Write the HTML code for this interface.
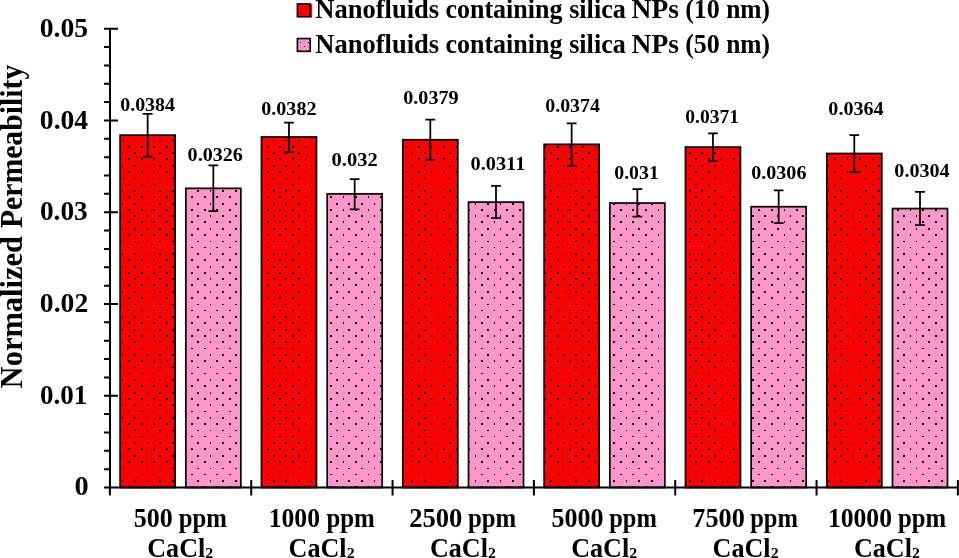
<!DOCTYPE html><html><head><meta charset="utf-8"><style>html,body{margin:0;padding:0;background:#fff;}svg{display:block;will-change:transform;}text{font-family:"Liberation Serif",serif;font-weight:bold;fill:#000;}</style></head><body>
<svg width="959" height="558" viewBox="0 0 959 558">
<rect x="120.15" y="135.14" width="55.0" height="352.36" fill="#FF0000"/>
<path d="M122 140h1v1h-1zM134 140h2v1h-2zM147 140h1v1h-1zM159 140h2v1h-2zM172 140h2v1h-2zM122 152h1v2h-1zM134 152h2v2h-2zM147 152h1v2h-1zM159 152h2v2h-2zM172 152h2v2h-2zM122 165h1v2h-1zM134 165h2v2h-2zM147 165h1v2h-1zM159 165h2v2h-2zM172 165h2v2h-2zM122 178h1v1h-1zM134 178h2v1h-2zM147 178h1v1h-1zM159 178h2v1h-2zM172 178h2v1h-2zM122 190h1v2h-1zM134 190h2v2h-2zM147 190h1v2h-1zM159 190h2v2h-2zM172 190h2v2h-2zM122 203h1v2h-1zM134 203h2v2h-2zM147 203h1v2h-1zM159 203h2v2h-2zM172 203h2v2h-2zM122 215h1v2h-1zM134 215h2v2h-2zM147 215h1v2h-1zM159 215h2v2h-2zM172 215h2v2h-2zM122 228h1v2h-1zM134 228h2v2h-2zM147 228h1v2h-1zM159 228h2v2h-2zM172 228h2v2h-2zM122 241h1v1h-1zM134 241h2v1h-2zM147 241h1v1h-1zM159 241h2v1h-2zM172 241h2v1h-2zM122 253h1v2h-1zM134 253h2v2h-2zM147 253h1v2h-1zM159 253h2v2h-2zM172 253h2v2h-2zM122 266h1v2h-1zM134 266h2v2h-2zM147 266h1v2h-1zM159 266h2v2h-2zM172 266h2v2h-2zM122 278h1v2h-1zM134 278h2v2h-2zM147 278h1v2h-1zM159 278h2v2h-2zM172 278h2v2h-2zM122 291h1v2h-1zM134 291h2v2h-2zM147 291h1v2h-1zM159 291h2v2h-2zM172 291h2v2h-2zM122 304h1v1h-1zM134 304h2v1h-2zM147 304h1v1h-1zM159 304h2v1h-2zM172 304h2v1h-2zM122 316h1v2h-1zM134 316h2v2h-2zM147 316h1v2h-1zM159 316h2v2h-2zM172 316h2v2h-2zM122 329h1v2h-1zM134 329h2v2h-2zM147 329h1v2h-1zM159 329h2v2h-2zM172 329h2v2h-2zM122 341h1v2h-1zM134 341h2v2h-2zM147 341h1v2h-1zM159 341h2v2h-2zM172 341h2v2h-2zM122 354h1v2h-1zM134 354h2v2h-2zM147 354h1v2h-1zM159 354h2v2h-2zM172 354h2v2h-2zM122 367h1v1h-1zM134 367h2v1h-2zM147 367h1v1h-1zM159 367h2v1h-2zM172 367h2v1h-2zM122 379h1v2h-1zM134 379h2v2h-2zM147 379h1v2h-1zM159 379h2v2h-2zM172 379h2v2h-2zM122 392h1v2h-1zM134 392h2v2h-2zM147 392h1v2h-1zM159 392h2v2h-2zM172 392h2v2h-2zM122 404h1v2h-1zM134 404h2v2h-2zM147 404h1v2h-1zM159 404h2v2h-2zM172 404h2v2h-2zM122 417h1v2h-1zM134 417h2v2h-2zM147 417h1v2h-1zM159 417h2v2h-2zM172 417h2v2h-2zM122 430h1v1h-1zM134 430h2v1h-2zM147 430h1v1h-1zM159 430h2v1h-2zM172 430h2v1h-2zM122 442h1v2h-1zM134 442h2v2h-2zM147 442h1v2h-1zM159 442h2v2h-2zM172 442h2v2h-2zM122 455h1v2h-1zM134 455h2v2h-2zM147 455h1v2h-1zM159 455h2v2h-2zM172 455h2v2h-2zM122 468h1v1h-1zM134 468h2v1h-2zM147 468h1v1h-1zM159 468h2v1h-2zM172 468h2v1h-2zM122 480h1v2h-1zM134 480h2v2h-2zM147 480h1v2h-1zM159 480h2v2h-2zM172 480h2v2h-2zM128 146h2v2h-2zM141 146h2v2h-2zM153 146h2v2h-2zM166 146h2v2h-2zM128 158h2v2h-2zM141 158h2v2h-2zM153 158h2v2h-2zM166 158h2v2h-2zM128 171h2v2h-2zM141 171h2v2h-2zM153 171h2v2h-2zM166 171h2v2h-2zM128 184h2v1h-2zM141 184h2v1h-2zM153 184h2v1h-2zM166 184h2v1h-2zM128 196h2v2h-2zM141 196h2v2h-2zM153 196h2v2h-2zM166 196h2v2h-2zM128 209h2v2h-2zM141 209h2v2h-2zM153 209h2v2h-2zM166 209h2v2h-2zM128 221h2v2h-2zM141 221h2v2h-2zM153 221h2v2h-2zM166 221h2v2h-2zM128 234h2v2h-2zM141 234h2v2h-2zM153 234h2v2h-2zM166 234h2v2h-2zM128 247h2v1h-2zM141 247h2v1h-2zM153 247h2v1h-2zM166 247h2v1h-2zM128 259h2v2h-2zM141 259h2v2h-2zM153 259h2v2h-2zM166 259h2v2h-2zM128 272h2v2h-2zM141 272h2v2h-2zM153 272h2v2h-2zM166 272h2v2h-2zM128 284h2v2h-2zM141 284h2v2h-2zM153 284h2v2h-2zM166 284h2v2h-2zM128 297h2v2h-2zM141 297h2v2h-2zM153 297h2v2h-2zM166 297h2v2h-2zM128 310h2v1h-2zM141 310h2v1h-2zM153 310h2v1h-2zM166 310h2v1h-2zM128 322h2v2h-2zM141 322h2v2h-2zM153 322h2v2h-2zM166 322h2v2h-2zM128 335h2v2h-2zM141 335h2v2h-2zM153 335h2v2h-2zM166 335h2v2h-2zM128 348h2v1h-2zM141 348h2v1h-2zM153 348h2v1h-2zM166 348h2v1h-2zM128 360h2v2h-2zM141 360h2v2h-2zM153 360h2v2h-2zM166 360h2v2h-2zM128 373h2v1h-2zM141 373h2v1h-2zM153 373h2v1h-2zM166 373h2v1h-2zM128 385h2v2h-2zM141 385h2v2h-2zM153 385h2v2h-2zM166 385h2v2h-2zM128 398h2v2h-2zM141 398h2v2h-2zM153 398h2v2h-2zM166 398h2v2h-2zM128 411h2v1h-2zM141 411h2v1h-2zM153 411h2v1h-2zM166 411h2v1h-2zM128 423h2v2h-2zM141 423h2v2h-2zM153 423h2v2h-2zM166 423h2v2h-2zM128 436h2v1h-2zM141 436h2v1h-2zM153 436h2v1h-2zM166 436h2v1h-2zM128 448h2v2h-2zM141 448h2v2h-2zM153 448h2v2h-2zM166 448h2v2h-2zM128 461h2v2h-2zM141 461h2v2h-2zM153 461h2v2h-2zM166 461h2v2h-2zM128 474h2v1h-2zM141 474h2v1h-2zM153 474h2v1h-2zM166 474h2v1h-2zM128 486h2v2h-2zM141 486h2v2h-2zM153 486h2v2h-2zM166 486h2v2h-2z" fill="#000" shape-rendering="crispEdges"/>
<rect x="120.15" y="135.14" width="55.0" height="352.36" fill="none" stroke="#000" stroke-width="1.7"/>
<rect x="185.85" y="188.36" width="55.0" height="299.14" fill="#FF96CA"/>
<path d="M185 190h1v2h-1zM197 190h2v2h-2zM210 190h1v2h-1zM222 190h2v2h-2zM235 190h2v2h-2zM185 203h1v2h-1zM197 203h2v2h-2zM210 203h1v2h-1zM222 203h2v2h-2zM235 203h2v2h-2zM185 215h1v2h-1zM197 215h2v2h-2zM210 215h1v2h-1zM222 215h2v2h-2zM235 215h2v2h-2zM185 228h1v2h-1zM197 228h2v2h-2zM210 228h1v2h-1zM222 228h2v2h-2zM235 228h2v2h-2zM185 241h1v1h-1zM197 241h2v1h-2zM210 241h1v1h-1zM222 241h2v1h-2zM235 241h2v1h-2zM185 253h1v2h-1zM197 253h2v2h-2zM210 253h1v2h-1zM222 253h2v2h-2zM235 253h2v2h-2zM185 266h1v2h-1zM197 266h2v2h-2zM210 266h1v2h-1zM222 266h2v2h-2zM235 266h2v2h-2zM185 278h1v2h-1zM197 278h2v2h-2zM210 278h1v2h-1zM222 278h2v2h-2zM235 278h2v2h-2zM185 291h1v2h-1zM197 291h2v2h-2zM210 291h1v2h-1zM222 291h2v2h-2zM235 291h2v2h-2zM185 304h1v1h-1zM197 304h2v1h-2zM210 304h1v1h-1zM222 304h2v1h-2zM235 304h2v1h-2zM185 316h1v2h-1zM197 316h2v2h-2zM210 316h1v2h-1zM222 316h2v2h-2zM235 316h2v2h-2zM185 329h1v2h-1zM197 329h2v2h-2zM210 329h1v2h-1zM222 329h2v2h-2zM235 329h2v2h-2zM185 341h1v2h-1zM197 341h2v2h-2zM210 341h1v2h-1zM222 341h2v2h-2zM235 341h2v2h-2zM185 354h1v2h-1zM197 354h2v2h-2zM210 354h1v2h-1zM222 354h2v2h-2zM235 354h2v2h-2zM185 367h1v1h-1zM197 367h2v1h-2zM210 367h1v1h-1zM222 367h2v1h-2zM235 367h2v1h-2zM185 379h1v2h-1zM197 379h2v2h-2zM210 379h1v2h-1zM222 379h2v2h-2zM235 379h2v2h-2zM185 392h1v2h-1zM197 392h2v2h-2zM210 392h1v2h-1zM222 392h2v2h-2zM235 392h2v2h-2zM185 404h1v2h-1zM197 404h2v2h-2zM210 404h1v2h-1zM222 404h2v2h-2zM235 404h2v2h-2zM185 417h1v2h-1zM197 417h2v2h-2zM210 417h1v2h-1zM222 417h2v2h-2zM235 417h2v2h-2zM185 430h1v1h-1zM197 430h2v1h-2zM210 430h1v1h-1zM222 430h2v1h-2zM235 430h2v1h-2zM185 442h1v2h-1zM197 442h2v2h-2zM210 442h1v2h-1zM222 442h2v2h-2zM235 442h2v2h-2zM185 455h1v2h-1zM197 455h2v2h-2zM210 455h1v2h-1zM222 455h2v2h-2zM235 455h2v2h-2zM185 468h1v1h-1zM197 468h2v1h-2zM210 468h1v1h-1zM222 468h2v1h-2zM235 468h2v1h-2zM185 480h1v2h-1zM197 480h2v2h-2zM210 480h1v2h-1zM222 480h2v2h-2zM235 480h2v2h-2zM191 196h2v2h-2zM204 196h2v2h-2zM216 196h2v2h-2zM229 196h2v2h-2zM191 209h2v2h-2zM204 209h2v2h-2zM216 209h2v2h-2zM229 209h2v2h-2zM191 221h2v2h-2zM204 221h2v2h-2zM216 221h2v2h-2zM229 221h2v2h-2zM191 234h2v2h-2zM204 234h2v2h-2zM216 234h2v2h-2zM229 234h2v2h-2zM191 247h2v1h-2zM204 247h2v1h-2zM216 247h2v1h-2zM229 247h2v1h-2zM191 259h2v2h-2zM204 259h2v2h-2zM216 259h2v2h-2zM229 259h2v2h-2zM191 272h2v2h-2zM204 272h2v2h-2zM216 272h2v2h-2zM229 272h2v2h-2zM191 284h2v2h-2zM204 284h2v2h-2zM216 284h2v2h-2zM229 284h2v2h-2zM191 297h2v2h-2zM204 297h2v2h-2zM216 297h2v2h-2zM229 297h2v2h-2zM191 310h2v1h-2zM204 310h2v1h-2zM216 310h2v1h-2zM229 310h2v1h-2zM191 322h2v2h-2zM204 322h2v2h-2zM216 322h2v2h-2zM229 322h2v2h-2zM191 335h2v2h-2zM204 335h2v2h-2zM216 335h2v2h-2zM229 335h2v2h-2zM191 348h2v1h-2zM204 348h2v1h-2zM216 348h2v1h-2zM229 348h2v1h-2zM191 360h2v2h-2zM204 360h2v2h-2zM216 360h2v2h-2zM229 360h2v2h-2zM191 373h2v1h-2zM204 373h2v1h-2zM216 373h2v1h-2zM229 373h2v1h-2zM191 385h2v2h-2zM204 385h2v2h-2zM216 385h2v2h-2zM229 385h2v2h-2zM191 398h2v2h-2zM204 398h2v2h-2zM216 398h2v2h-2zM229 398h2v2h-2zM191 411h2v1h-2zM204 411h2v1h-2zM216 411h2v1h-2zM229 411h2v1h-2zM191 423h2v2h-2zM204 423h2v2h-2zM216 423h2v2h-2zM229 423h2v2h-2zM191 436h2v1h-2zM204 436h2v1h-2zM216 436h2v1h-2zM229 436h2v1h-2zM191 448h2v2h-2zM204 448h2v2h-2zM216 448h2v2h-2zM229 448h2v2h-2zM191 461h2v2h-2zM204 461h2v2h-2zM216 461h2v2h-2zM229 461h2v2h-2zM191 474h2v1h-2zM204 474h2v1h-2zM216 474h2v1h-2zM229 474h2v1h-2zM191 486h2v2h-2zM204 486h2v2h-2zM216 486h2v2h-2zM229 486h2v2h-2z" fill="#000" shape-rendering="crispEdges"/>
<rect x="185.85" y="188.36" width="55.0" height="299.14" fill="none" stroke="#000" stroke-width="1.7"/>
<rect x="261.48" y="136.98" width="55.0" height="350.52" fill="#FF0000"/>
<path d="M261 140h1v1h-1zM273 140h2v1h-2zM285 140h2v1h-2zM298 140h2v1h-2zM311 140h1v1h-1zM261 152h1v2h-1zM273 152h2v2h-2zM285 152h2v2h-2zM298 152h2v2h-2zM311 152h1v2h-1zM261 165h1v2h-1zM273 165h2v2h-2zM285 165h2v2h-2zM298 165h2v2h-2zM311 165h1v2h-1zM261 178h1v1h-1zM273 178h2v1h-2zM285 178h2v1h-2zM298 178h2v1h-2zM311 178h1v1h-1zM261 190h1v2h-1zM273 190h2v2h-2zM285 190h2v2h-2zM298 190h2v2h-2zM311 190h1v2h-1zM261 203h1v2h-1zM273 203h2v2h-2zM285 203h2v2h-2zM298 203h2v2h-2zM311 203h1v2h-1zM261 215h1v2h-1zM273 215h2v2h-2zM285 215h2v2h-2zM298 215h2v2h-2zM311 215h1v2h-1zM261 228h1v2h-1zM273 228h2v2h-2zM285 228h2v2h-2zM298 228h2v2h-2zM311 228h1v2h-1zM261 241h1v1h-1zM273 241h2v1h-2zM285 241h2v1h-2zM298 241h2v1h-2zM311 241h1v1h-1zM261 253h1v2h-1zM273 253h2v2h-2zM285 253h2v2h-2zM298 253h2v2h-2zM311 253h1v2h-1zM261 266h1v2h-1zM273 266h2v2h-2zM285 266h2v2h-2zM298 266h2v2h-2zM311 266h1v2h-1zM261 278h1v2h-1zM273 278h2v2h-2zM285 278h2v2h-2zM298 278h2v2h-2zM311 278h1v2h-1zM261 291h1v2h-1zM273 291h2v2h-2zM285 291h2v2h-2zM298 291h2v2h-2zM311 291h1v2h-1zM261 304h1v1h-1zM273 304h2v1h-2zM285 304h2v1h-2zM298 304h2v1h-2zM311 304h1v1h-1zM261 316h1v2h-1zM273 316h2v2h-2zM285 316h2v2h-2zM298 316h2v2h-2zM311 316h1v2h-1zM261 329h1v2h-1zM273 329h2v2h-2zM285 329h2v2h-2zM298 329h2v2h-2zM311 329h1v2h-1zM261 341h1v2h-1zM273 341h2v2h-2zM285 341h2v2h-2zM298 341h2v2h-2zM311 341h1v2h-1zM261 354h1v2h-1zM273 354h2v2h-2zM285 354h2v2h-2zM298 354h2v2h-2zM311 354h1v2h-1zM261 367h1v1h-1zM273 367h2v1h-2zM285 367h2v1h-2zM298 367h2v1h-2zM311 367h1v1h-1zM261 379h1v2h-1zM273 379h2v2h-2zM285 379h2v2h-2zM298 379h2v2h-2zM311 379h1v2h-1zM261 392h1v2h-1zM273 392h2v2h-2zM285 392h2v2h-2zM298 392h2v2h-2zM311 392h1v2h-1zM261 404h1v2h-1zM273 404h2v2h-2zM285 404h2v2h-2zM298 404h2v2h-2zM311 404h1v2h-1zM261 417h1v2h-1zM273 417h2v2h-2zM285 417h2v2h-2zM298 417h2v2h-2zM311 417h1v2h-1zM261 430h1v1h-1zM273 430h2v1h-2zM285 430h2v1h-2zM298 430h2v1h-2zM311 430h1v1h-1zM261 442h1v2h-1zM273 442h2v2h-2zM285 442h2v2h-2zM298 442h2v2h-2zM311 442h1v2h-1zM261 455h1v2h-1zM273 455h2v2h-2zM285 455h2v2h-2zM298 455h2v2h-2zM311 455h1v2h-1zM261 468h1v1h-1zM273 468h2v1h-2zM285 468h2v1h-2zM298 468h2v1h-2zM311 468h1v1h-1zM261 480h1v2h-1zM273 480h2v2h-2zM285 480h2v2h-2zM298 480h2v2h-2zM311 480h1v2h-1zM267 146h2v2h-2zM279 146h2v2h-2zM292 146h2v2h-2zM305 146h1v2h-1zM267 158h2v2h-2zM279 158h2v2h-2zM292 158h2v2h-2zM305 158h1v2h-1zM267 171h2v2h-2zM279 171h2v2h-2zM292 171h2v2h-2zM305 171h1v2h-1zM267 184h2v1h-2zM279 184h2v1h-2zM292 184h2v1h-2zM305 184h1v1h-1zM267 196h2v2h-2zM279 196h2v2h-2zM292 196h2v2h-2zM305 196h1v2h-1zM267 209h2v2h-2zM279 209h2v2h-2zM292 209h2v2h-2zM305 209h1v2h-1zM267 221h2v2h-2zM279 221h2v2h-2zM292 221h2v2h-2zM305 221h1v2h-1zM267 234h2v2h-2zM279 234h2v2h-2zM292 234h2v2h-2zM305 234h1v2h-1zM267 247h2v1h-2zM279 247h2v1h-2zM292 247h2v1h-2zM305 247h1v1h-1zM267 259h2v2h-2zM279 259h2v2h-2zM292 259h2v2h-2zM305 259h1v2h-1zM267 272h2v2h-2zM279 272h2v2h-2zM292 272h2v2h-2zM305 272h1v2h-1zM267 284h2v2h-2zM279 284h2v2h-2zM292 284h2v2h-2zM305 284h1v2h-1zM267 297h2v2h-2zM279 297h2v2h-2zM292 297h2v2h-2zM305 297h1v2h-1zM267 310h2v1h-2zM279 310h2v1h-2zM292 310h2v1h-2zM305 310h1v1h-1zM267 322h2v2h-2zM279 322h2v2h-2zM292 322h2v2h-2zM305 322h1v2h-1zM267 335h2v2h-2zM279 335h2v2h-2zM292 335h2v2h-2zM305 335h1v2h-1zM267 348h2v1h-2zM279 348h2v1h-2zM292 348h2v1h-2zM305 348h1v1h-1zM267 360h2v2h-2zM279 360h2v2h-2zM292 360h2v2h-2zM305 360h1v2h-1zM267 373h2v1h-2zM279 373h2v1h-2zM292 373h2v1h-2zM305 373h1v1h-1zM267 385h2v2h-2zM279 385h2v2h-2zM292 385h2v2h-2zM305 385h1v2h-1zM267 398h2v2h-2zM279 398h2v2h-2zM292 398h2v2h-2zM305 398h1v2h-1zM267 411h2v1h-2zM279 411h2v1h-2zM292 411h2v1h-2zM305 411h1v1h-1zM267 423h2v2h-2zM279 423h2v2h-2zM292 423h2v2h-2zM305 423h1v2h-1zM267 436h2v1h-2zM279 436h2v1h-2zM292 436h2v1h-2zM305 436h1v1h-1zM267 448h2v2h-2zM279 448h2v2h-2zM292 448h2v2h-2zM305 448h1v2h-1zM267 461h2v2h-2zM279 461h2v2h-2zM292 461h2v2h-2zM305 461h1v2h-1zM267 474h2v1h-2zM279 474h2v1h-2zM292 474h2v1h-2zM305 474h1v1h-1zM267 486h2v2h-2zM279 486h2v2h-2zM292 486h2v2h-2zM305 486h1v2h-1z" fill="#000" shape-rendering="crispEdges"/>
<rect x="261.48" y="136.98" width="55.0" height="350.52" fill="none" stroke="#000" stroke-width="1.7"/>
<rect x="327.18" y="193.87" width="55.0" height="293.63" fill="#FF96CA"/>
<path d="M336 203h2v2h-2zM348 203h2v2h-2zM361 203h2v2h-2zM374 203h1v2h-1zM336 215h2v2h-2zM348 215h2v2h-2zM361 215h2v2h-2zM374 215h1v2h-1zM336 228h2v2h-2zM348 228h2v2h-2zM361 228h2v2h-2zM374 228h1v2h-1zM336 241h2v1h-2zM348 241h2v1h-2zM361 241h2v1h-2zM374 241h1v1h-1zM336 253h2v2h-2zM348 253h2v2h-2zM361 253h2v2h-2zM374 253h1v2h-1zM336 266h2v2h-2zM348 266h2v2h-2zM361 266h2v2h-2zM374 266h1v2h-1zM336 278h2v2h-2zM348 278h2v2h-2zM361 278h2v2h-2zM374 278h1v2h-1zM336 291h2v2h-2zM348 291h2v2h-2zM361 291h2v2h-2zM374 291h1v2h-1zM336 304h2v1h-2zM348 304h2v1h-2zM361 304h2v1h-2zM374 304h1v1h-1zM336 316h2v2h-2zM348 316h2v2h-2zM361 316h2v2h-2zM374 316h1v2h-1zM336 329h2v2h-2zM348 329h2v2h-2zM361 329h2v2h-2zM374 329h1v2h-1zM336 341h2v2h-2zM348 341h2v2h-2zM361 341h2v2h-2zM374 341h1v2h-1zM336 354h2v2h-2zM348 354h2v2h-2zM361 354h2v2h-2zM374 354h1v2h-1zM336 367h2v1h-2zM348 367h2v1h-2zM361 367h2v1h-2zM374 367h1v1h-1zM336 379h2v2h-2zM348 379h2v2h-2zM361 379h2v2h-2zM374 379h1v2h-1zM336 392h2v2h-2zM348 392h2v2h-2zM361 392h2v2h-2zM374 392h1v2h-1zM336 404h2v2h-2zM348 404h2v2h-2zM361 404h2v2h-2zM374 404h1v2h-1zM336 417h2v2h-2zM348 417h2v2h-2zM361 417h2v2h-2zM374 417h1v2h-1zM336 430h2v1h-2zM348 430h2v1h-2zM361 430h2v1h-2zM374 430h1v1h-1zM336 442h2v2h-2zM348 442h2v2h-2zM361 442h2v2h-2zM374 442h1v2h-1zM336 455h2v2h-2zM348 455h2v2h-2zM361 455h2v2h-2zM374 455h1v2h-1zM336 468h2v1h-2zM348 468h2v1h-2zM361 468h2v1h-2zM374 468h1v1h-1zM336 480h2v2h-2zM348 480h2v2h-2zM361 480h2v2h-2zM374 480h1v2h-1zM330 196h2v2h-2zM343 196h1v2h-1zM355 196h2v2h-2zM368 196h1v2h-1zM380 196h2v2h-2zM330 209h2v2h-2zM343 209h1v2h-1zM355 209h2v2h-2zM368 209h1v2h-1zM380 209h2v2h-2zM330 221h2v2h-2zM343 221h1v2h-1zM355 221h2v2h-2zM368 221h1v2h-1zM380 221h2v2h-2zM330 234h2v2h-2zM343 234h1v2h-1zM355 234h2v2h-2zM368 234h1v2h-1zM380 234h2v2h-2zM330 247h2v1h-2zM343 247h1v1h-1zM355 247h2v1h-2zM368 247h1v1h-1zM380 247h2v1h-2zM330 259h2v2h-2zM343 259h1v2h-1zM355 259h2v2h-2zM368 259h1v2h-1zM380 259h2v2h-2zM330 272h2v2h-2zM343 272h1v2h-1zM355 272h2v2h-2zM368 272h1v2h-1zM380 272h2v2h-2zM330 284h2v2h-2zM343 284h1v2h-1zM355 284h2v2h-2zM368 284h1v2h-1zM380 284h2v2h-2zM330 297h2v2h-2zM343 297h1v2h-1zM355 297h2v2h-2zM368 297h1v2h-1zM380 297h2v2h-2zM330 310h2v1h-2zM343 310h1v1h-1zM355 310h2v1h-2zM368 310h1v1h-1zM380 310h2v1h-2zM330 322h2v2h-2zM343 322h1v2h-1zM355 322h2v2h-2zM368 322h1v2h-1zM380 322h2v2h-2zM330 335h2v2h-2zM343 335h1v2h-1zM355 335h2v2h-2zM368 335h1v2h-1zM380 335h2v2h-2zM330 348h2v1h-2zM343 348h1v1h-1zM355 348h2v1h-2zM368 348h1v1h-1zM380 348h2v1h-2zM330 360h2v2h-2zM343 360h1v2h-1zM355 360h2v2h-2zM368 360h1v2h-1zM380 360h2v2h-2zM330 373h2v1h-2zM343 373h1v1h-1zM355 373h2v1h-2zM368 373h1v1h-1zM380 373h2v1h-2zM330 385h2v2h-2zM343 385h1v2h-1zM355 385h2v2h-2zM368 385h1v2h-1zM380 385h2v2h-2zM330 398h2v2h-2zM343 398h1v2h-1zM355 398h2v2h-2zM368 398h1v2h-1zM380 398h2v2h-2zM330 411h2v1h-2zM343 411h1v1h-1zM355 411h2v1h-2zM368 411h1v1h-1zM380 411h2v1h-2zM330 423h2v2h-2zM343 423h1v2h-1zM355 423h2v2h-2zM368 423h1v2h-1zM380 423h2v2h-2zM330 436h2v1h-2zM343 436h1v1h-1zM355 436h2v1h-2zM368 436h1v1h-1zM380 436h2v1h-2zM330 448h2v2h-2zM343 448h1v2h-1zM355 448h2v2h-2zM368 448h1v2h-1zM380 448h2v2h-2zM330 461h2v2h-2zM343 461h1v2h-1zM355 461h2v2h-2zM368 461h1v2h-1zM380 461h2v2h-2zM330 474h2v1h-2zM343 474h1v1h-1zM355 474h2v1h-2zM368 474h1v1h-1zM380 474h2v1h-2zM330 486h2v2h-2zM343 486h1v2h-1zM355 486h2v2h-2zM368 486h1v2h-1zM380 486h2v2h-2z" fill="#000" shape-rendering="crispEdges"/>
<rect x="327.18" y="193.87" width="55.0" height="293.63" fill="none" stroke="#000" stroke-width="1.7"/>
<rect x="402.81" y="139.73" width="55.0" height="347.77" fill="#FF0000"/>
<path d="M411 140h2v1h-2zM424 140h2v1h-2zM437 140h1v1h-1zM449 140h2v1h-2zM411 152h2v2h-2zM424 152h2v2h-2zM437 152h1v2h-1zM449 152h2v2h-2zM411 165h2v2h-2zM424 165h2v2h-2zM437 165h1v2h-1zM449 165h2v2h-2zM411 178h2v1h-2zM424 178h2v1h-2zM437 178h1v1h-1zM449 178h2v1h-2zM411 190h2v2h-2zM424 190h2v2h-2zM437 190h1v2h-1zM449 190h2v2h-2zM411 203h2v2h-2zM424 203h2v2h-2zM437 203h1v2h-1zM449 203h2v2h-2zM411 215h2v2h-2zM424 215h2v2h-2zM437 215h1v2h-1zM449 215h2v2h-2zM411 228h2v2h-2zM424 228h2v2h-2zM437 228h1v2h-1zM449 228h2v2h-2zM411 241h2v1h-2zM424 241h2v1h-2zM437 241h1v1h-1zM449 241h2v1h-2zM411 253h2v2h-2zM424 253h2v2h-2zM437 253h1v2h-1zM449 253h2v2h-2zM411 266h2v2h-2zM424 266h2v2h-2zM437 266h1v2h-1zM449 266h2v2h-2zM411 278h2v2h-2zM424 278h2v2h-2zM437 278h1v2h-1zM449 278h2v2h-2zM411 291h2v2h-2zM424 291h2v2h-2zM437 291h1v2h-1zM449 291h2v2h-2zM411 304h2v1h-2zM424 304h2v1h-2zM437 304h1v1h-1zM449 304h2v1h-2zM411 316h2v2h-2zM424 316h2v2h-2zM437 316h1v2h-1zM449 316h2v2h-2zM411 329h2v2h-2zM424 329h2v2h-2zM437 329h1v2h-1zM449 329h2v2h-2zM411 341h2v2h-2zM424 341h2v2h-2zM437 341h1v2h-1zM449 341h2v2h-2zM411 354h2v2h-2zM424 354h2v2h-2zM437 354h1v2h-1zM449 354h2v2h-2zM411 367h2v1h-2zM424 367h2v1h-2zM437 367h1v1h-1zM449 367h2v1h-2zM411 379h2v2h-2zM424 379h2v2h-2zM437 379h1v2h-1zM449 379h2v2h-2zM411 392h2v2h-2zM424 392h2v2h-2zM437 392h1v2h-1zM449 392h2v2h-2zM411 404h2v2h-2zM424 404h2v2h-2zM437 404h1v2h-1zM449 404h2v2h-2zM411 417h2v2h-2zM424 417h2v2h-2zM437 417h1v2h-1zM449 417h2v2h-2zM411 430h2v1h-2zM424 430h2v1h-2zM437 430h1v1h-1zM449 430h2v1h-2zM411 442h2v2h-2zM424 442h2v2h-2zM437 442h1v2h-1zM449 442h2v2h-2zM411 455h2v2h-2zM424 455h2v2h-2zM437 455h1v2h-1zM449 455h2v2h-2zM411 468h2v1h-2zM424 468h2v1h-2zM437 468h1v1h-1zM449 468h2v1h-2zM411 480h2v2h-2zM424 480h2v2h-2zM437 480h1v2h-1zM449 480h2v2h-2zM406 146h1v2h-1zM418 146h2v2h-2zM431 146h1v2h-1zM443 146h2v2h-2zM456 146h2v2h-2zM406 158h1v2h-1zM418 158h2v2h-2zM431 158h1v2h-1zM443 158h2v2h-2zM456 158h2v2h-2zM406 171h1v2h-1zM418 171h2v2h-2zM431 171h1v2h-1zM443 171h2v2h-2zM456 171h2v2h-2zM406 184h1v1h-1zM418 184h2v1h-2zM431 184h1v1h-1zM443 184h2v1h-2zM456 184h2v1h-2zM406 196h1v2h-1zM418 196h2v2h-2zM431 196h1v2h-1zM443 196h2v2h-2zM456 196h2v2h-2zM406 209h1v2h-1zM418 209h2v2h-2zM431 209h1v2h-1zM443 209h2v2h-2zM456 209h2v2h-2zM406 221h1v2h-1zM418 221h2v2h-2zM431 221h1v2h-1zM443 221h2v2h-2zM456 221h2v2h-2zM406 234h1v2h-1zM418 234h2v2h-2zM431 234h1v2h-1zM443 234h2v2h-2zM456 234h2v2h-2zM406 247h1v1h-1zM418 247h2v1h-2zM431 247h1v1h-1zM443 247h2v1h-2zM456 247h2v1h-2zM406 259h1v2h-1zM418 259h2v2h-2zM431 259h1v2h-1zM443 259h2v2h-2zM456 259h2v2h-2zM406 272h1v2h-1zM418 272h2v2h-2zM431 272h1v2h-1zM443 272h2v2h-2zM456 272h2v2h-2zM406 284h1v2h-1zM418 284h2v2h-2zM431 284h1v2h-1zM443 284h2v2h-2zM456 284h2v2h-2zM406 297h1v2h-1zM418 297h2v2h-2zM431 297h1v2h-1zM443 297h2v2h-2zM456 297h2v2h-2zM406 310h1v1h-1zM418 310h2v1h-2zM431 310h1v1h-1zM443 310h2v1h-2zM456 310h2v1h-2zM406 322h1v2h-1zM418 322h2v2h-2zM431 322h1v2h-1zM443 322h2v2h-2zM456 322h2v2h-2zM406 335h1v2h-1zM418 335h2v2h-2zM431 335h1v2h-1zM443 335h2v2h-2zM456 335h2v2h-2zM406 348h1v1h-1zM418 348h2v1h-2zM431 348h1v1h-1zM443 348h2v1h-2zM456 348h2v1h-2zM406 360h1v2h-1zM418 360h2v2h-2zM431 360h1v2h-1zM443 360h2v2h-2zM456 360h2v2h-2zM406 373h1v1h-1zM418 373h2v1h-2zM431 373h1v1h-1zM443 373h2v1h-2zM456 373h2v1h-2zM406 385h1v2h-1zM418 385h2v2h-2zM431 385h1v2h-1zM443 385h2v2h-2zM456 385h2v2h-2zM406 398h1v2h-1zM418 398h2v2h-2zM431 398h1v2h-1zM443 398h2v2h-2zM456 398h2v2h-2zM406 411h1v1h-1zM418 411h2v1h-2zM431 411h1v1h-1zM443 411h2v1h-2zM456 411h2v1h-2zM406 423h1v2h-1zM418 423h2v2h-2zM431 423h1v2h-1zM443 423h2v2h-2zM456 423h2v2h-2zM406 436h1v1h-1zM418 436h2v1h-2zM431 436h1v1h-1zM443 436h2v1h-2zM456 436h2v1h-2zM406 448h1v2h-1zM418 448h2v2h-2zM431 448h1v2h-1zM443 448h2v2h-2zM456 448h2v2h-2zM406 461h1v2h-1zM418 461h2v2h-2zM431 461h1v2h-1zM443 461h2v2h-2zM456 461h2v2h-2zM406 474h1v1h-1zM418 474h2v1h-2zM431 474h1v1h-1zM443 474h2v1h-2zM456 474h2v1h-2zM406 486h1v2h-1zM418 486h2v2h-2zM431 486h1v2h-1zM443 486h2v2h-2zM456 486h2v2h-2z" fill="#000" shape-rendering="crispEdges"/>
<rect x="402.81" y="139.73" width="55.0" height="347.77" fill="none" stroke="#000" stroke-width="1.7"/>
<rect x="468.51" y="202.13" width="55.0" height="285.37" fill="#FF96CA"/>
<path d="M475 203h1v2h-1zM487 203h2v2h-2zM500 203h1v2h-1zM512 203h2v2h-2zM475 215h1v2h-1zM487 215h2v2h-2zM500 215h1v2h-1zM512 215h2v2h-2zM475 228h1v2h-1zM487 228h2v2h-2zM500 228h1v2h-1zM512 228h2v2h-2zM475 241h1v1h-1zM487 241h2v1h-2zM500 241h1v1h-1zM512 241h2v1h-2zM475 253h1v2h-1zM487 253h2v2h-2zM500 253h1v2h-1zM512 253h2v2h-2zM475 266h1v2h-1zM487 266h2v2h-2zM500 266h1v2h-1zM512 266h2v2h-2zM475 278h1v2h-1zM487 278h2v2h-2zM500 278h1v2h-1zM512 278h2v2h-2zM475 291h1v2h-1zM487 291h2v2h-2zM500 291h1v2h-1zM512 291h2v2h-2zM475 304h1v1h-1zM487 304h2v1h-2zM500 304h1v1h-1zM512 304h2v1h-2zM475 316h1v2h-1zM487 316h2v2h-2zM500 316h1v2h-1zM512 316h2v2h-2zM475 329h1v2h-1zM487 329h2v2h-2zM500 329h1v2h-1zM512 329h2v2h-2zM475 341h1v2h-1zM487 341h2v2h-2zM500 341h1v2h-1zM512 341h2v2h-2zM475 354h1v2h-1zM487 354h2v2h-2zM500 354h1v2h-1zM512 354h2v2h-2zM475 367h1v1h-1zM487 367h2v1h-2zM500 367h1v1h-1zM512 367h2v1h-2zM475 379h1v2h-1zM487 379h2v2h-2zM500 379h1v2h-1zM512 379h2v2h-2zM475 392h1v2h-1zM487 392h2v2h-2zM500 392h1v2h-1zM512 392h2v2h-2zM475 404h1v2h-1zM487 404h2v2h-2zM500 404h1v2h-1zM512 404h2v2h-2zM475 417h1v2h-1zM487 417h2v2h-2zM500 417h1v2h-1zM512 417h2v2h-2zM475 430h1v1h-1zM487 430h2v1h-2zM500 430h1v1h-1zM512 430h2v1h-2zM475 442h1v2h-1zM487 442h2v2h-2zM500 442h1v2h-1zM512 442h2v2h-2zM475 455h1v2h-1zM487 455h2v2h-2zM500 455h1v2h-1zM512 455h2v2h-2zM475 468h1v1h-1zM487 468h2v1h-2zM500 468h1v1h-1zM512 468h2v1h-2zM475 480h1v2h-1zM487 480h2v2h-2zM500 480h1v2h-1zM512 480h2v2h-2zM469 209h1v2h-1zM481 209h2v2h-2zM494 209h1v2h-1zM506 209h2v2h-2zM519 209h2v2h-2zM469 221h1v2h-1zM481 221h2v2h-2zM494 221h1v2h-1zM506 221h2v2h-2zM519 221h2v2h-2zM469 234h1v2h-1zM481 234h2v2h-2zM494 234h1v2h-1zM506 234h2v2h-2zM519 234h2v2h-2zM469 247h1v1h-1zM481 247h2v1h-2zM494 247h1v1h-1zM506 247h2v1h-2zM519 247h2v1h-2zM469 259h1v2h-1zM481 259h2v2h-2zM494 259h1v2h-1zM506 259h2v2h-2zM519 259h2v2h-2zM469 272h1v2h-1zM481 272h2v2h-2zM494 272h1v2h-1zM506 272h2v2h-2zM519 272h2v2h-2zM469 284h1v2h-1zM481 284h2v2h-2zM494 284h1v2h-1zM506 284h2v2h-2zM519 284h2v2h-2zM469 297h1v2h-1zM481 297h2v2h-2zM494 297h1v2h-1zM506 297h2v2h-2zM519 297h2v2h-2zM469 310h1v1h-1zM481 310h2v1h-2zM494 310h1v1h-1zM506 310h2v1h-2zM519 310h2v1h-2zM469 322h1v2h-1zM481 322h2v2h-2zM494 322h1v2h-1zM506 322h2v2h-2zM519 322h2v2h-2zM469 335h1v2h-1zM481 335h2v2h-2zM494 335h1v2h-1zM506 335h2v2h-2zM519 335h2v2h-2zM469 348h1v1h-1zM481 348h2v1h-2zM494 348h1v1h-1zM506 348h2v1h-2zM519 348h2v1h-2zM469 360h1v2h-1zM481 360h2v2h-2zM494 360h1v2h-1zM506 360h2v2h-2zM519 360h2v2h-2zM469 373h1v1h-1zM481 373h2v1h-2zM494 373h1v1h-1zM506 373h2v1h-2zM519 373h2v1h-2zM469 385h1v2h-1zM481 385h2v2h-2zM494 385h1v2h-1zM506 385h2v2h-2zM519 385h2v2h-2zM469 398h1v2h-1zM481 398h2v2h-2zM494 398h1v2h-1zM506 398h2v2h-2zM519 398h2v2h-2zM469 411h1v1h-1zM481 411h2v1h-2zM494 411h1v1h-1zM506 411h2v1h-2zM519 411h2v1h-2zM469 423h1v2h-1zM481 423h2v2h-2zM494 423h1v2h-1zM506 423h2v2h-2zM519 423h2v2h-2zM469 436h1v1h-1zM481 436h2v1h-2zM494 436h1v1h-1zM506 436h2v1h-2zM519 436h2v1h-2zM469 448h1v2h-1zM481 448h2v2h-2zM494 448h1v2h-1zM506 448h2v2h-2zM519 448h2v2h-2zM469 461h1v2h-1zM481 461h2v2h-2zM494 461h1v2h-1zM506 461h2v2h-2zM519 461h2v2h-2zM469 474h1v1h-1zM481 474h2v1h-2zM494 474h1v1h-1zM506 474h2v1h-2zM519 474h2v1h-2zM469 486h1v2h-1zM481 486h2v2h-2zM494 486h1v2h-1zM506 486h2v2h-2zM519 486h2v2h-2z" fill="#000" shape-rendering="crispEdges"/>
<rect x="468.51" y="202.13" width="55.0" height="285.37" fill="none" stroke="#000" stroke-width="1.7"/>
<rect x="544.14" y="144.32" width="55.0" height="343.18" fill="#FF0000"/>
<path d="M550 152h2v2h-2zM563 152h1v2h-1zM575 152h2v2h-2zM588 152h2v2h-2zM550 165h2v2h-2zM563 165h1v2h-1zM575 165h2v2h-2zM588 165h2v2h-2zM550 178h2v1h-2zM563 178h1v1h-1zM575 178h2v1h-2zM588 178h2v1h-2zM550 190h2v2h-2zM563 190h1v2h-1zM575 190h2v2h-2zM588 190h2v2h-2zM550 203h2v2h-2zM563 203h1v2h-1zM575 203h2v2h-2zM588 203h2v2h-2zM550 215h2v2h-2zM563 215h1v2h-1zM575 215h2v2h-2zM588 215h2v2h-2zM550 228h2v2h-2zM563 228h1v2h-1zM575 228h2v2h-2zM588 228h2v2h-2zM550 241h2v1h-2zM563 241h1v1h-1zM575 241h2v1h-2zM588 241h2v1h-2zM550 253h2v2h-2zM563 253h1v2h-1zM575 253h2v2h-2zM588 253h2v2h-2zM550 266h2v2h-2zM563 266h1v2h-1zM575 266h2v2h-2zM588 266h2v2h-2zM550 278h2v2h-2zM563 278h1v2h-1zM575 278h2v2h-2zM588 278h2v2h-2zM550 291h2v2h-2zM563 291h1v2h-1zM575 291h2v2h-2zM588 291h2v2h-2zM550 304h2v1h-2zM563 304h1v1h-1zM575 304h2v1h-2zM588 304h2v1h-2zM550 316h2v2h-2zM563 316h1v2h-1zM575 316h2v2h-2zM588 316h2v2h-2zM550 329h2v2h-2zM563 329h1v2h-1zM575 329h2v2h-2zM588 329h2v2h-2zM550 341h2v2h-2zM563 341h1v2h-1zM575 341h2v2h-2zM588 341h2v2h-2zM550 354h2v2h-2zM563 354h1v2h-1zM575 354h2v2h-2zM588 354h2v2h-2zM550 367h2v1h-2zM563 367h1v1h-1zM575 367h2v1h-2zM588 367h2v1h-2zM550 379h2v2h-2zM563 379h1v2h-1zM575 379h2v2h-2zM588 379h2v2h-2zM550 392h2v2h-2zM563 392h1v2h-1zM575 392h2v2h-2zM588 392h2v2h-2zM550 404h2v2h-2zM563 404h1v2h-1zM575 404h2v2h-2zM588 404h2v2h-2zM550 417h2v2h-2zM563 417h1v2h-1zM575 417h2v2h-2zM588 417h2v2h-2zM550 430h2v1h-2zM563 430h1v1h-1zM575 430h2v1h-2zM588 430h2v1h-2zM550 442h2v2h-2zM563 442h1v2h-1zM575 442h2v2h-2zM588 442h2v2h-2zM550 455h2v2h-2zM563 455h1v2h-1zM575 455h2v2h-2zM588 455h2v2h-2zM550 468h2v1h-2zM563 468h1v1h-1zM575 468h2v1h-2zM588 468h2v1h-2zM550 480h2v2h-2zM563 480h1v2h-1zM575 480h2v2h-2zM588 480h2v2h-2zM544 146h2v2h-2zM557 146h2v2h-2zM569 146h2v2h-2zM582 146h2v2h-2zM595 146h1v2h-1zM544 158h2v2h-2zM557 158h2v2h-2zM569 158h2v2h-2zM582 158h2v2h-2zM595 158h1v2h-1zM544 171h2v2h-2zM557 171h2v2h-2zM569 171h2v2h-2zM582 171h2v2h-2zM595 171h1v2h-1zM544 184h2v1h-2zM557 184h2v1h-2zM569 184h2v1h-2zM582 184h2v1h-2zM595 184h1v1h-1zM544 196h2v2h-2zM557 196h2v2h-2zM569 196h2v2h-2zM582 196h2v2h-2zM595 196h1v2h-1zM544 209h2v2h-2zM557 209h2v2h-2zM569 209h2v2h-2zM582 209h2v2h-2zM595 209h1v2h-1zM544 221h2v2h-2zM557 221h2v2h-2zM569 221h2v2h-2zM582 221h2v2h-2zM595 221h1v2h-1zM544 234h2v2h-2zM557 234h2v2h-2zM569 234h2v2h-2zM582 234h2v2h-2zM595 234h1v2h-1zM544 247h2v1h-2zM557 247h2v1h-2zM569 247h2v1h-2zM582 247h2v1h-2zM595 247h1v1h-1zM544 259h2v2h-2zM557 259h2v2h-2zM569 259h2v2h-2zM582 259h2v2h-2zM595 259h1v2h-1zM544 272h2v2h-2zM557 272h2v2h-2zM569 272h2v2h-2zM582 272h2v2h-2zM595 272h1v2h-1zM544 284h2v2h-2zM557 284h2v2h-2zM569 284h2v2h-2zM582 284h2v2h-2zM595 284h1v2h-1zM544 297h2v2h-2zM557 297h2v2h-2zM569 297h2v2h-2zM582 297h2v2h-2zM595 297h1v2h-1zM544 310h2v1h-2zM557 310h2v1h-2zM569 310h2v1h-2zM582 310h2v1h-2zM595 310h1v1h-1zM544 322h2v2h-2zM557 322h2v2h-2zM569 322h2v2h-2zM582 322h2v2h-2zM595 322h1v2h-1zM544 335h2v2h-2zM557 335h2v2h-2zM569 335h2v2h-2zM582 335h2v2h-2zM595 335h1v2h-1zM544 348h2v1h-2zM557 348h2v1h-2zM569 348h2v1h-2zM582 348h2v1h-2zM595 348h1v1h-1zM544 360h2v2h-2zM557 360h2v2h-2zM569 360h2v2h-2zM582 360h2v2h-2zM595 360h1v2h-1zM544 373h2v1h-2zM557 373h2v1h-2zM569 373h2v1h-2zM582 373h2v1h-2zM595 373h1v1h-1zM544 385h2v2h-2zM557 385h2v2h-2zM569 385h2v2h-2zM582 385h2v2h-2zM595 385h1v2h-1zM544 398h2v2h-2zM557 398h2v2h-2zM569 398h2v2h-2zM582 398h2v2h-2zM595 398h1v2h-1zM544 411h2v1h-2zM557 411h2v1h-2zM569 411h2v1h-2zM582 411h2v1h-2zM595 411h1v1h-1zM544 423h2v2h-2zM557 423h2v2h-2zM569 423h2v2h-2zM582 423h2v2h-2zM595 423h1v2h-1zM544 436h2v1h-2zM557 436h2v1h-2zM569 436h2v1h-2zM582 436h2v1h-2zM595 436h1v1h-1zM544 448h2v2h-2zM557 448h2v2h-2zM569 448h2v2h-2zM582 448h2v2h-2zM595 448h1v2h-1zM544 461h2v2h-2zM557 461h2v2h-2zM569 461h2v2h-2zM582 461h2v2h-2zM595 461h1v2h-1zM544 474h2v1h-2zM557 474h2v1h-2zM569 474h2v1h-2zM582 474h2v1h-2zM595 474h1v1h-1zM544 486h2v2h-2zM557 486h2v2h-2zM569 486h2v2h-2zM582 486h2v2h-2zM595 486h1v2h-1z" fill="#000" shape-rendering="crispEdges"/>
<rect x="544.14" y="144.32" width="55.0" height="343.18" fill="none" stroke="#000" stroke-width="1.7"/>
<rect x="609.84" y="203.04" width="55.0" height="284.46" fill="#FF96CA"/>
<path d="M613 203h2v2h-2zM626 203h1v2h-1zM638 203h2v2h-2zM651 203h2v2h-2zM664 203h1v2h-1zM613 215h2v2h-2zM626 215h1v2h-1zM638 215h2v2h-2zM651 215h2v2h-2zM664 215h1v2h-1zM613 228h2v2h-2zM626 228h1v2h-1zM638 228h2v2h-2zM651 228h2v2h-2zM664 228h1v2h-1zM613 241h2v1h-2zM626 241h1v1h-1zM638 241h2v1h-2zM651 241h2v1h-2zM664 241h1v1h-1zM613 253h2v2h-2zM626 253h1v2h-1zM638 253h2v2h-2zM651 253h2v2h-2zM664 253h1v2h-1zM613 266h2v2h-2zM626 266h1v2h-1zM638 266h2v2h-2zM651 266h2v2h-2zM664 266h1v2h-1zM613 278h2v2h-2zM626 278h1v2h-1zM638 278h2v2h-2zM651 278h2v2h-2zM664 278h1v2h-1zM613 291h2v2h-2zM626 291h1v2h-1zM638 291h2v2h-2zM651 291h2v2h-2zM664 291h1v2h-1zM613 304h2v1h-2zM626 304h1v1h-1zM638 304h2v1h-2zM651 304h2v1h-2zM664 304h1v1h-1zM613 316h2v2h-2zM626 316h1v2h-1zM638 316h2v2h-2zM651 316h2v2h-2zM664 316h1v2h-1zM613 329h2v2h-2zM626 329h1v2h-1zM638 329h2v2h-2zM651 329h2v2h-2zM664 329h1v2h-1zM613 341h2v2h-2zM626 341h1v2h-1zM638 341h2v2h-2zM651 341h2v2h-2zM664 341h1v2h-1zM613 354h2v2h-2zM626 354h1v2h-1zM638 354h2v2h-2zM651 354h2v2h-2zM664 354h1v2h-1zM613 367h2v1h-2zM626 367h1v1h-1zM638 367h2v1h-2zM651 367h2v1h-2zM664 367h1v1h-1zM613 379h2v2h-2zM626 379h1v2h-1zM638 379h2v2h-2zM651 379h2v2h-2zM664 379h1v2h-1zM613 392h2v2h-2zM626 392h1v2h-1zM638 392h2v2h-2zM651 392h2v2h-2zM664 392h1v2h-1zM613 404h2v2h-2zM626 404h1v2h-1zM638 404h2v2h-2zM651 404h2v2h-2zM664 404h1v2h-1zM613 417h2v2h-2zM626 417h1v2h-1zM638 417h2v2h-2zM651 417h2v2h-2zM664 417h1v2h-1zM613 430h2v1h-2zM626 430h1v1h-1zM638 430h2v1h-2zM651 430h2v1h-2zM664 430h1v1h-1zM613 442h2v2h-2zM626 442h1v2h-1zM638 442h2v2h-2zM651 442h2v2h-2zM664 442h1v2h-1zM613 455h2v2h-2zM626 455h1v2h-1zM638 455h2v2h-2zM651 455h2v2h-2zM664 455h1v2h-1zM613 468h2v1h-2zM626 468h1v1h-1zM638 468h2v1h-2zM651 468h2v1h-2zM664 468h1v1h-1zM613 480h2v2h-2zM626 480h1v2h-1zM638 480h2v2h-2zM651 480h2v2h-2zM664 480h1v2h-1zM620 209h2v2h-2zM632 209h2v2h-2zM645 209h2v2h-2zM658 209h1v2h-1zM620 221h2v2h-2zM632 221h2v2h-2zM645 221h2v2h-2zM658 221h1v2h-1zM620 234h2v2h-2zM632 234h2v2h-2zM645 234h2v2h-2zM658 234h1v2h-1zM620 247h2v1h-2zM632 247h2v1h-2zM645 247h2v1h-2zM658 247h1v1h-1zM620 259h2v2h-2zM632 259h2v2h-2zM645 259h2v2h-2zM658 259h1v2h-1zM620 272h2v2h-2zM632 272h2v2h-2zM645 272h2v2h-2zM658 272h1v2h-1zM620 284h2v2h-2zM632 284h2v2h-2zM645 284h2v2h-2zM658 284h1v2h-1zM620 297h2v2h-2zM632 297h2v2h-2zM645 297h2v2h-2zM658 297h1v2h-1zM620 310h2v1h-2zM632 310h2v1h-2zM645 310h2v1h-2zM658 310h1v1h-1zM620 322h2v2h-2zM632 322h2v2h-2zM645 322h2v2h-2zM658 322h1v2h-1zM620 335h2v2h-2zM632 335h2v2h-2zM645 335h2v2h-2zM658 335h1v2h-1zM620 348h2v1h-2zM632 348h2v1h-2zM645 348h2v1h-2zM658 348h1v1h-1zM620 360h2v2h-2zM632 360h2v2h-2zM645 360h2v2h-2zM658 360h1v2h-1zM620 373h2v1h-2zM632 373h2v1h-2zM645 373h2v1h-2zM658 373h1v1h-1zM620 385h2v2h-2zM632 385h2v2h-2zM645 385h2v2h-2zM658 385h1v2h-1zM620 398h2v2h-2zM632 398h2v2h-2zM645 398h2v2h-2zM658 398h1v2h-1zM620 411h2v1h-2zM632 411h2v1h-2zM645 411h2v1h-2zM658 411h1v1h-1zM620 423h2v2h-2zM632 423h2v2h-2zM645 423h2v2h-2zM658 423h1v2h-1zM620 436h2v1h-2zM632 436h2v1h-2zM645 436h2v1h-2zM658 436h1v1h-1zM620 448h2v2h-2zM632 448h2v2h-2zM645 448h2v2h-2zM658 448h1v2h-1zM620 461h2v2h-2zM632 461h2v2h-2zM645 461h2v2h-2zM658 461h1v2h-1zM620 474h2v1h-2zM632 474h2v1h-2zM645 474h2v1h-2zM658 474h1v1h-1zM620 486h2v2h-2zM632 486h2v2h-2zM645 486h2v2h-2zM658 486h1v2h-1z" fill="#000" shape-rendering="crispEdges"/>
<rect x="609.84" y="203.04" width="55.0" height="284.46" fill="none" stroke="#000" stroke-width="1.7"/>
<rect x="685.47" y="147.07" width="55.0" height="340.43" fill="#FF0000"/>
<path d="M689 152h2v2h-2zM701 152h2v2h-2zM714 152h2v2h-2zM727 152h1v2h-1zM739 152h2v2h-2zM689 165h2v2h-2zM701 165h2v2h-2zM714 165h2v2h-2zM727 165h1v2h-1zM739 165h2v2h-2zM689 178h2v1h-2zM701 178h2v1h-2zM714 178h2v1h-2zM727 178h1v1h-1zM739 178h2v1h-2zM689 190h2v2h-2zM701 190h2v2h-2zM714 190h2v2h-2zM727 190h1v2h-1zM739 190h2v2h-2zM689 203h2v2h-2zM701 203h2v2h-2zM714 203h2v2h-2zM727 203h1v2h-1zM739 203h2v2h-2zM689 215h2v2h-2zM701 215h2v2h-2zM714 215h2v2h-2zM727 215h1v2h-1zM739 215h2v2h-2zM689 228h2v2h-2zM701 228h2v2h-2zM714 228h2v2h-2zM727 228h1v2h-1zM739 228h2v2h-2zM689 241h2v1h-2zM701 241h2v1h-2zM714 241h2v1h-2zM727 241h1v1h-1zM739 241h2v1h-2zM689 253h2v2h-2zM701 253h2v2h-2zM714 253h2v2h-2zM727 253h1v2h-1zM739 253h2v2h-2zM689 266h2v2h-2zM701 266h2v2h-2zM714 266h2v2h-2zM727 266h1v2h-1zM739 266h2v2h-2zM689 278h2v2h-2zM701 278h2v2h-2zM714 278h2v2h-2zM727 278h1v2h-1zM739 278h2v2h-2zM689 291h2v2h-2zM701 291h2v2h-2zM714 291h2v2h-2zM727 291h1v2h-1zM739 291h2v2h-2zM689 304h2v1h-2zM701 304h2v1h-2zM714 304h2v1h-2zM727 304h1v1h-1zM739 304h2v1h-2zM689 316h2v2h-2zM701 316h2v2h-2zM714 316h2v2h-2zM727 316h1v2h-1zM739 316h2v2h-2zM689 329h2v2h-2zM701 329h2v2h-2zM714 329h2v2h-2zM727 329h1v2h-1zM739 329h2v2h-2zM689 341h2v2h-2zM701 341h2v2h-2zM714 341h2v2h-2zM727 341h1v2h-1zM739 341h2v2h-2zM689 354h2v2h-2zM701 354h2v2h-2zM714 354h2v2h-2zM727 354h1v2h-1zM739 354h2v2h-2zM689 367h2v1h-2zM701 367h2v1h-2zM714 367h2v1h-2zM727 367h1v1h-1zM739 367h2v1h-2zM689 379h2v2h-2zM701 379h2v2h-2zM714 379h2v2h-2zM727 379h1v2h-1zM739 379h2v2h-2zM689 392h2v2h-2zM701 392h2v2h-2zM714 392h2v2h-2zM727 392h1v2h-1zM739 392h2v2h-2zM689 404h2v2h-2zM701 404h2v2h-2zM714 404h2v2h-2zM727 404h1v2h-1zM739 404h2v2h-2zM689 417h2v2h-2zM701 417h2v2h-2zM714 417h2v2h-2zM727 417h1v2h-1zM739 417h2v2h-2zM689 430h2v1h-2zM701 430h2v1h-2zM714 430h2v1h-2zM727 430h1v1h-1zM739 430h2v1h-2zM689 442h2v2h-2zM701 442h2v2h-2zM714 442h2v2h-2zM727 442h1v2h-1zM739 442h2v2h-2zM689 455h2v2h-2zM701 455h2v2h-2zM714 455h2v2h-2zM727 455h1v2h-1zM739 455h2v2h-2zM689 468h2v1h-2zM701 468h2v1h-2zM714 468h2v1h-2zM727 468h1v1h-1zM739 468h2v1h-2zM689 480h2v2h-2zM701 480h2v2h-2zM714 480h2v2h-2zM727 480h1v2h-1zM739 480h2v2h-2zM695 147h2v1h-2zM708 147h2v1h-2zM721 147h1v1h-1zM733 147h2v1h-2zM695 158h2v2h-2zM708 158h2v2h-2zM721 158h1v2h-1zM733 158h2v2h-2zM695 171h2v2h-2zM708 171h2v2h-2zM721 171h1v2h-1zM733 171h2v2h-2zM695 184h2v1h-2zM708 184h2v1h-2zM721 184h1v1h-1zM733 184h2v1h-2zM695 196h2v2h-2zM708 196h2v2h-2zM721 196h1v2h-1zM733 196h2v2h-2zM695 209h2v2h-2zM708 209h2v2h-2zM721 209h1v2h-1zM733 209h2v2h-2zM695 221h2v2h-2zM708 221h2v2h-2zM721 221h1v2h-1zM733 221h2v2h-2zM695 234h2v2h-2zM708 234h2v2h-2zM721 234h1v2h-1zM733 234h2v2h-2zM695 247h2v1h-2zM708 247h2v1h-2zM721 247h1v1h-1zM733 247h2v1h-2zM695 259h2v2h-2zM708 259h2v2h-2zM721 259h1v2h-1zM733 259h2v2h-2zM695 272h2v2h-2zM708 272h2v2h-2zM721 272h1v2h-1zM733 272h2v2h-2zM695 284h2v2h-2zM708 284h2v2h-2zM721 284h1v2h-1zM733 284h2v2h-2zM695 297h2v2h-2zM708 297h2v2h-2zM721 297h1v2h-1zM733 297h2v2h-2zM695 310h2v1h-2zM708 310h2v1h-2zM721 310h1v1h-1zM733 310h2v1h-2zM695 322h2v2h-2zM708 322h2v2h-2zM721 322h1v2h-1zM733 322h2v2h-2zM695 335h2v2h-2zM708 335h2v2h-2zM721 335h1v2h-1zM733 335h2v2h-2zM695 348h2v1h-2zM708 348h2v1h-2zM721 348h1v1h-1zM733 348h2v1h-2zM695 360h2v2h-2zM708 360h2v2h-2zM721 360h1v2h-1zM733 360h2v2h-2zM695 373h2v1h-2zM708 373h2v1h-2zM721 373h1v1h-1zM733 373h2v1h-2zM695 385h2v2h-2zM708 385h2v2h-2zM721 385h1v2h-1zM733 385h2v2h-2zM695 398h2v2h-2zM708 398h2v2h-2zM721 398h1v2h-1zM733 398h2v2h-2zM695 411h2v1h-2zM708 411h2v1h-2zM721 411h1v1h-1zM733 411h2v1h-2zM695 423h2v2h-2zM708 423h2v2h-2zM721 423h1v2h-1zM733 423h2v2h-2zM695 436h2v1h-2zM708 436h2v1h-2zM721 436h1v1h-1zM733 436h2v1h-2zM695 448h2v2h-2zM708 448h2v2h-2zM721 448h1v2h-1zM733 448h2v2h-2zM695 461h2v2h-2zM708 461h2v2h-2zM721 461h1v2h-1zM733 461h2v2h-2zM695 474h2v1h-2zM708 474h2v1h-2zM721 474h1v1h-1zM733 474h2v1h-2zM695 486h2v2h-2zM708 486h2v2h-2zM721 486h1v2h-1zM733 486h2v2h-2z" fill="#000" shape-rendering="crispEdges"/>
<rect x="685.47" y="147.07" width="55.0" height="340.43" fill="none" stroke="#000" stroke-width="1.7"/>
<rect x="751.17" y="206.71" width="55.0" height="280.79" fill="#FF96CA"/>
<path d="M752 215h2v2h-2zM764 215h2v2h-2zM777 215h2v2h-2zM790 215h1v2h-1zM802 215h2v2h-2zM752 228h2v2h-2zM764 228h2v2h-2zM777 228h2v2h-2zM790 228h1v2h-1zM802 228h2v2h-2zM752 241h2v1h-2zM764 241h2v1h-2zM777 241h2v1h-2zM790 241h1v1h-1zM802 241h2v1h-2zM752 253h2v2h-2zM764 253h2v2h-2zM777 253h2v2h-2zM790 253h1v2h-1zM802 253h2v2h-2zM752 266h2v2h-2zM764 266h2v2h-2zM777 266h2v2h-2zM790 266h1v2h-1zM802 266h2v2h-2zM752 278h2v2h-2zM764 278h2v2h-2zM777 278h2v2h-2zM790 278h1v2h-1zM802 278h2v2h-2zM752 291h2v2h-2zM764 291h2v2h-2zM777 291h2v2h-2zM790 291h1v2h-1zM802 291h2v2h-2zM752 304h2v1h-2zM764 304h2v1h-2zM777 304h2v1h-2zM790 304h1v1h-1zM802 304h2v1h-2zM752 316h2v2h-2zM764 316h2v2h-2zM777 316h2v2h-2zM790 316h1v2h-1zM802 316h2v2h-2zM752 329h2v2h-2zM764 329h2v2h-2zM777 329h2v2h-2zM790 329h1v2h-1zM802 329h2v2h-2zM752 341h2v2h-2zM764 341h2v2h-2zM777 341h2v2h-2zM790 341h1v2h-1zM802 341h2v2h-2zM752 354h2v2h-2zM764 354h2v2h-2zM777 354h2v2h-2zM790 354h1v2h-1zM802 354h2v2h-2zM752 367h2v1h-2zM764 367h2v1h-2zM777 367h2v1h-2zM790 367h1v1h-1zM802 367h2v1h-2zM752 379h2v2h-2zM764 379h2v2h-2zM777 379h2v2h-2zM790 379h1v2h-1zM802 379h2v2h-2zM752 392h2v2h-2zM764 392h2v2h-2zM777 392h2v2h-2zM790 392h1v2h-1zM802 392h2v2h-2zM752 404h2v2h-2zM764 404h2v2h-2zM777 404h2v2h-2zM790 404h1v2h-1zM802 404h2v2h-2zM752 417h2v2h-2zM764 417h2v2h-2zM777 417h2v2h-2zM790 417h1v2h-1zM802 417h2v2h-2zM752 430h2v1h-2zM764 430h2v1h-2zM777 430h2v1h-2zM790 430h1v1h-1zM802 430h2v1h-2zM752 442h2v2h-2zM764 442h2v2h-2zM777 442h2v2h-2zM790 442h1v2h-1zM802 442h2v2h-2zM752 455h2v2h-2zM764 455h2v2h-2zM777 455h2v2h-2zM790 455h1v2h-1zM802 455h2v2h-2zM752 468h2v1h-2zM764 468h2v1h-2zM777 468h2v1h-2zM790 468h1v1h-1zM802 468h2v1h-2zM752 480h2v2h-2zM764 480h2v2h-2zM777 480h2v2h-2zM790 480h1v2h-1zM802 480h2v2h-2zM758 209h2v2h-2zM771 209h2v2h-2zM784 209h1v2h-1zM796 209h2v2h-2zM758 221h2v2h-2zM771 221h2v2h-2zM784 221h1v2h-1zM796 221h2v2h-2zM758 234h2v2h-2zM771 234h2v2h-2zM784 234h1v2h-1zM796 234h2v2h-2zM758 247h2v1h-2zM771 247h2v1h-2zM784 247h1v1h-1zM796 247h2v1h-2zM758 259h2v2h-2zM771 259h2v2h-2zM784 259h1v2h-1zM796 259h2v2h-2zM758 272h2v2h-2zM771 272h2v2h-2zM784 272h1v2h-1zM796 272h2v2h-2zM758 284h2v2h-2zM771 284h2v2h-2zM784 284h1v2h-1zM796 284h2v2h-2zM758 297h2v2h-2zM771 297h2v2h-2zM784 297h1v2h-1zM796 297h2v2h-2zM758 310h2v1h-2zM771 310h2v1h-2zM784 310h1v1h-1zM796 310h2v1h-2zM758 322h2v2h-2zM771 322h2v2h-2zM784 322h1v2h-1zM796 322h2v2h-2zM758 335h2v2h-2zM771 335h2v2h-2zM784 335h1v2h-1zM796 335h2v2h-2zM758 348h2v1h-2zM771 348h2v1h-2zM784 348h1v1h-1zM796 348h2v1h-2zM758 360h2v2h-2zM771 360h2v2h-2zM784 360h1v2h-1zM796 360h2v2h-2zM758 373h2v1h-2zM771 373h2v1h-2zM784 373h1v1h-1zM796 373h2v1h-2zM758 385h2v2h-2zM771 385h2v2h-2zM784 385h1v2h-1zM796 385h2v2h-2zM758 398h2v2h-2zM771 398h2v2h-2zM784 398h1v2h-1zM796 398h2v2h-2zM758 411h2v1h-2zM771 411h2v1h-2zM784 411h1v1h-1zM796 411h2v1h-2zM758 423h2v2h-2zM771 423h2v2h-2zM784 423h1v2h-1zM796 423h2v2h-2zM758 436h2v1h-2zM771 436h2v1h-2zM784 436h1v1h-1zM796 436h2v1h-2zM758 448h2v2h-2zM771 448h2v2h-2zM784 448h1v2h-1zM796 448h2v2h-2zM758 461h2v2h-2zM771 461h2v2h-2zM784 461h1v2h-1zM796 461h2v2h-2zM758 474h2v1h-2zM771 474h2v1h-2zM784 474h1v1h-1zM796 474h2v1h-2zM758 486h2v2h-2zM771 486h2v2h-2zM784 486h1v2h-1zM796 486h2v2h-2z" fill="#000" shape-rendering="crispEdges"/>
<rect x="751.17" y="206.71" width="55.0" height="280.79" fill="none" stroke="#000" stroke-width="1.7"/>
<rect x="826.80" y="153.49" width="55.0" height="334.01" fill="#FF0000"/>
<path d="M827 153h2v1h-2zM840 153h2v1h-2zM853 153h1v1h-1zM865 153h2v1h-2zM878 153h2v1h-2zM827 165h2v2h-2zM840 165h2v2h-2zM853 165h1v2h-1zM865 165h2v2h-2zM878 165h2v2h-2zM827 178h2v1h-2zM840 178h2v1h-2zM853 178h1v1h-1zM865 178h2v1h-2zM878 178h2v1h-2zM827 190h2v2h-2zM840 190h2v2h-2zM853 190h1v2h-1zM865 190h2v2h-2zM878 190h2v2h-2zM827 203h2v2h-2zM840 203h2v2h-2zM853 203h1v2h-1zM865 203h2v2h-2zM878 203h2v2h-2zM827 215h2v2h-2zM840 215h2v2h-2zM853 215h1v2h-1zM865 215h2v2h-2zM878 215h2v2h-2zM827 228h2v2h-2zM840 228h2v2h-2zM853 228h1v2h-1zM865 228h2v2h-2zM878 228h2v2h-2zM827 241h2v1h-2zM840 241h2v1h-2zM853 241h1v1h-1zM865 241h2v1h-2zM878 241h2v1h-2zM827 253h2v2h-2zM840 253h2v2h-2zM853 253h1v2h-1zM865 253h2v2h-2zM878 253h2v2h-2zM827 266h2v2h-2zM840 266h2v2h-2zM853 266h1v2h-1zM865 266h2v2h-2zM878 266h2v2h-2zM827 278h2v2h-2zM840 278h2v2h-2zM853 278h1v2h-1zM865 278h2v2h-2zM878 278h2v2h-2zM827 291h2v2h-2zM840 291h2v2h-2zM853 291h1v2h-1zM865 291h2v2h-2zM878 291h2v2h-2zM827 304h2v1h-2zM840 304h2v1h-2zM853 304h1v1h-1zM865 304h2v1h-2zM878 304h2v1h-2zM827 316h2v2h-2zM840 316h2v2h-2zM853 316h1v2h-1zM865 316h2v2h-2zM878 316h2v2h-2zM827 329h2v2h-2zM840 329h2v2h-2zM853 329h1v2h-1zM865 329h2v2h-2zM878 329h2v2h-2zM827 341h2v2h-2zM840 341h2v2h-2zM853 341h1v2h-1zM865 341h2v2h-2zM878 341h2v2h-2zM827 354h2v2h-2zM840 354h2v2h-2zM853 354h1v2h-1zM865 354h2v2h-2zM878 354h2v2h-2zM827 367h2v1h-2zM840 367h2v1h-2zM853 367h1v1h-1zM865 367h2v1h-2zM878 367h2v1h-2zM827 379h2v2h-2zM840 379h2v2h-2zM853 379h1v2h-1zM865 379h2v2h-2zM878 379h2v2h-2zM827 392h2v2h-2zM840 392h2v2h-2zM853 392h1v2h-1zM865 392h2v2h-2zM878 392h2v2h-2zM827 404h2v2h-2zM840 404h2v2h-2zM853 404h1v2h-1zM865 404h2v2h-2zM878 404h2v2h-2zM827 417h2v2h-2zM840 417h2v2h-2zM853 417h1v2h-1zM865 417h2v2h-2zM878 417h2v2h-2zM827 430h2v1h-2zM840 430h2v1h-2zM853 430h1v1h-1zM865 430h2v1h-2zM878 430h2v1h-2zM827 442h2v2h-2zM840 442h2v2h-2zM853 442h1v2h-1zM865 442h2v2h-2zM878 442h2v2h-2zM827 455h2v2h-2zM840 455h2v2h-2zM853 455h1v2h-1zM865 455h2v2h-2zM878 455h2v2h-2zM827 468h2v1h-2zM840 468h2v1h-2zM853 468h1v1h-1zM865 468h2v1h-2zM878 468h2v1h-2zM827 480h2v2h-2zM840 480h2v2h-2zM853 480h1v2h-1zM865 480h2v2h-2zM878 480h2v2h-2zM834 158h2v2h-2zM847 158h1v2h-1zM859 158h2v2h-2zM872 158h2v2h-2zM834 171h2v2h-2zM847 171h1v2h-1zM859 171h2v2h-2zM872 171h2v2h-2zM834 184h2v1h-2zM847 184h1v1h-1zM859 184h2v1h-2zM872 184h2v1h-2zM834 196h2v2h-2zM847 196h1v2h-1zM859 196h2v2h-2zM872 196h2v2h-2zM834 209h2v2h-2zM847 209h1v2h-1zM859 209h2v2h-2zM872 209h2v2h-2zM834 221h2v2h-2zM847 221h1v2h-1zM859 221h2v2h-2zM872 221h2v2h-2zM834 234h2v2h-2zM847 234h1v2h-1zM859 234h2v2h-2zM872 234h2v2h-2zM834 247h2v1h-2zM847 247h1v1h-1zM859 247h2v1h-2zM872 247h2v1h-2zM834 259h2v2h-2zM847 259h1v2h-1zM859 259h2v2h-2zM872 259h2v2h-2zM834 272h2v2h-2zM847 272h1v2h-1zM859 272h2v2h-2zM872 272h2v2h-2zM834 284h2v2h-2zM847 284h1v2h-1zM859 284h2v2h-2zM872 284h2v2h-2zM834 297h2v2h-2zM847 297h1v2h-1zM859 297h2v2h-2zM872 297h2v2h-2zM834 310h2v1h-2zM847 310h1v1h-1zM859 310h2v1h-2zM872 310h2v1h-2zM834 322h2v2h-2zM847 322h1v2h-1zM859 322h2v2h-2zM872 322h2v2h-2zM834 335h2v2h-2zM847 335h1v2h-1zM859 335h2v2h-2zM872 335h2v2h-2zM834 348h2v1h-2zM847 348h1v1h-1zM859 348h2v1h-2zM872 348h2v1h-2zM834 360h2v2h-2zM847 360h1v2h-1zM859 360h2v2h-2zM872 360h2v2h-2zM834 373h2v1h-2zM847 373h1v1h-1zM859 373h2v1h-2zM872 373h2v1h-2zM834 385h2v2h-2zM847 385h1v2h-1zM859 385h2v2h-2zM872 385h2v2h-2zM834 398h2v2h-2zM847 398h1v2h-1zM859 398h2v2h-2zM872 398h2v2h-2zM834 411h2v1h-2zM847 411h1v1h-1zM859 411h2v1h-2zM872 411h2v1h-2zM834 423h2v2h-2zM847 423h1v2h-1zM859 423h2v2h-2zM872 423h2v2h-2zM834 436h2v1h-2zM847 436h1v1h-1zM859 436h2v1h-2zM872 436h2v1h-2zM834 448h2v2h-2zM847 448h1v2h-1zM859 448h2v2h-2zM872 448h2v2h-2zM834 461h2v2h-2zM847 461h1v2h-1zM859 461h2v2h-2zM872 461h2v2h-2zM834 474h2v1h-2zM847 474h1v1h-1zM859 474h2v1h-2zM872 474h2v1h-2zM834 486h2v2h-2zM847 486h1v2h-1zM859 486h2v2h-2zM872 486h2v2h-2z" fill="#000" shape-rendering="crispEdges"/>
<rect x="826.80" y="153.49" width="55.0" height="334.01" fill="none" stroke="#000" stroke-width="1.7"/>
<rect x="892.50" y="208.55" width="55.0" height="278.95" fill="#FF96CA"/>
<path d="M903 215h2v2h-2zM916 215h1v2h-1zM928 215h2v2h-2zM941 215h2v2h-2zM903 228h2v2h-2zM916 228h1v2h-1zM928 228h2v2h-2zM941 228h2v2h-2zM903 241h2v1h-2zM916 241h1v1h-1zM928 241h2v1h-2zM941 241h2v1h-2zM903 253h2v2h-2zM916 253h1v2h-1zM928 253h2v2h-2zM941 253h2v2h-2zM903 266h2v2h-2zM916 266h1v2h-1zM928 266h2v2h-2zM941 266h2v2h-2zM903 278h2v2h-2zM916 278h1v2h-1zM928 278h2v2h-2zM941 278h2v2h-2zM903 291h2v2h-2zM916 291h1v2h-1zM928 291h2v2h-2zM941 291h2v2h-2zM903 304h2v1h-2zM916 304h1v1h-1zM928 304h2v1h-2zM941 304h2v1h-2zM903 316h2v2h-2zM916 316h1v2h-1zM928 316h2v2h-2zM941 316h2v2h-2zM903 329h2v2h-2zM916 329h1v2h-1zM928 329h2v2h-2zM941 329h2v2h-2zM903 341h2v2h-2zM916 341h1v2h-1zM928 341h2v2h-2zM941 341h2v2h-2zM903 354h2v2h-2zM916 354h1v2h-1zM928 354h2v2h-2zM941 354h2v2h-2zM903 367h2v1h-2zM916 367h1v1h-1zM928 367h2v1h-2zM941 367h2v1h-2zM903 379h2v2h-2zM916 379h1v2h-1zM928 379h2v2h-2zM941 379h2v2h-2zM903 392h2v2h-2zM916 392h1v2h-1zM928 392h2v2h-2zM941 392h2v2h-2zM903 404h2v2h-2zM916 404h1v2h-1zM928 404h2v2h-2zM941 404h2v2h-2zM903 417h2v2h-2zM916 417h1v2h-1zM928 417h2v2h-2zM941 417h2v2h-2zM903 430h2v1h-2zM916 430h1v1h-1zM928 430h2v1h-2zM941 430h2v1h-2zM903 442h2v2h-2zM916 442h1v2h-1zM928 442h2v2h-2zM941 442h2v2h-2zM903 455h2v2h-2zM916 455h1v2h-1zM928 455h2v2h-2zM941 455h2v2h-2zM903 468h2v1h-2zM916 468h1v1h-1zM928 468h2v1h-2zM941 468h2v1h-2zM903 480h2v2h-2zM916 480h1v2h-1zM928 480h2v2h-2zM941 480h2v2h-2zM897 209h2v2h-2zM910 209h1v2h-1zM922 209h2v2h-2zM935 209h2v2h-2zM897 221h2v2h-2zM910 221h1v2h-1zM922 221h2v2h-2zM935 221h2v2h-2zM897 234h2v2h-2zM910 234h1v2h-1zM922 234h2v2h-2zM935 234h2v2h-2zM897 247h2v1h-2zM910 247h1v1h-1zM922 247h2v1h-2zM935 247h2v1h-2zM897 259h2v2h-2zM910 259h1v2h-1zM922 259h2v2h-2zM935 259h2v2h-2zM897 272h2v2h-2zM910 272h1v2h-1zM922 272h2v2h-2zM935 272h2v2h-2zM897 284h2v2h-2zM910 284h1v2h-1zM922 284h2v2h-2zM935 284h2v2h-2zM897 297h2v2h-2zM910 297h1v2h-1zM922 297h2v2h-2zM935 297h2v2h-2zM897 310h2v1h-2zM910 310h1v1h-1zM922 310h2v1h-2zM935 310h2v1h-2zM897 322h2v2h-2zM910 322h1v2h-1zM922 322h2v2h-2zM935 322h2v2h-2zM897 335h2v2h-2zM910 335h1v2h-1zM922 335h2v2h-2zM935 335h2v2h-2zM897 348h2v1h-2zM910 348h1v1h-1zM922 348h2v1h-2zM935 348h2v1h-2zM897 360h2v2h-2zM910 360h1v2h-1zM922 360h2v2h-2zM935 360h2v2h-2zM897 373h2v1h-2zM910 373h1v1h-1zM922 373h2v1h-2zM935 373h2v1h-2zM897 385h2v2h-2zM910 385h1v2h-1zM922 385h2v2h-2zM935 385h2v2h-2zM897 398h2v2h-2zM910 398h1v2h-1zM922 398h2v2h-2zM935 398h2v2h-2zM897 411h2v1h-2zM910 411h1v1h-1zM922 411h2v1h-2zM935 411h2v1h-2zM897 423h2v2h-2zM910 423h1v2h-1zM922 423h2v2h-2zM935 423h2v2h-2zM897 436h2v1h-2zM910 436h1v1h-1zM922 436h2v1h-2zM935 436h2v1h-2zM897 448h2v2h-2zM910 448h1v2h-1zM922 448h2v2h-2zM935 448h2v2h-2zM897 461h2v2h-2zM910 461h1v2h-1zM922 461h2v2h-2zM935 461h2v2h-2zM897 474h2v1h-2zM910 474h1v1h-1zM922 474h2v1h-2zM935 474h2v1h-2zM897 486h2v2h-2zM910 486h1v2h-1zM922 486h2v2h-2zM935 486h2v2h-2z" fill="#000" shape-rendering="crispEdges"/>
<rect x="892.50" y="208.55" width="55.0" height="278.95" fill="none" stroke="#000" stroke-width="1.7"/>
<path d="M147.65 113.90V156.70M142.75 113.90H152.55M142.75 156.70H152.55" stroke="#000" stroke-width="1.75" fill="none"/>
<path d="M213.35 165.30V211.10M208.45 165.30H218.25M208.45 211.10H218.25" stroke="#000" stroke-width="1.75" fill="none"/>
<path d="M288.98 122.60V152.20M284.08 122.60H293.88M284.08 152.20H293.88" stroke="#000" stroke-width="1.75" fill="none"/>
<path d="M354.68 179.20V209.30M349.78 179.20H359.58M349.78 209.30H359.58" stroke="#000" stroke-width="1.75" fill="none"/>
<path d="M430.31 119.60V159.80M425.41 119.60H435.21M425.41 159.80H435.21" stroke="#000" stroke-width="1.75" fill="none"/>
<path d="M496.01 185.90V218.00M491.11 185.90H500.91M491.11 218.00H500.91" stroke="#000" stroke-width="1.75" fill="none"/>
<path d="M571.64 123.40V165.80M566.74 123.40H576.54M566.74 165.80H576.54" stroke="#000" stroke-width="1.75" fill="none"/>
<path d="M637.34 189.10V216.70M632.44 189.10H642.24M632.44 216.70H642.24" stroke="#000" stroke-width="1.75" fill="none"/>
<path d="M712.97 133.40V160.80M708.07 133.40H717.87M708.07 160.80H717.87" stroke="#000" stroke-width="1.75" fill="none"/>
<path d="M778.67 190.30V223.10M773.77 190.30H783.57M773.77 223.10H783.57" stroke="#000" stroke-width="1.75" fill="none"/>
<path d="M854.30 135.20V172.00M849.40 135.20H859.20M849.40 172.00H859.20" stroke="#000" stroke-width="1.75" fill="none"/>
<path d="M920.00 191.90V225.20M915.10 191.90H924.90M915.10 225.20H924.90" stroke="#000" stroke-width="1.75" fill="none"/>
<path d="M110 28V488M104 487.50H118M104 395.74H118M104 303.98H118M104 212.22H118M104 120.46H118M104 28.70H118M104 469.15H110M104 450.80H110M104 432.44H110M104 414.09H110M104 377.39H110M104 359.04H110M104 340.68H110M104 322.33H110M104 285.63H110M104 267.28H110M104 248.92H110M104 230.57H110M104 193.87H110M104 175.52H110M104 157.16H110M104 138.81H110M104 102.11H110M104 83.76H110M104 65.40H110M104 47.05H110M110 487.5H958M109.90 480V495.5M251.23 480V495.5M392.56 480V495.5M533.89 480V495.5M675.22 480V495.5M816.55 480V495.5M957.88 480V495.5" stroke="#000" stroke-width="2" fill="none"/>
<rect x="311" y="4" width="1.2" height="13.7" fill="#FF0000"/>
<rect x="297.4" y="3.95" width="12.8" height="12.8" fill="#FF0000"/>
<path d="M305 9h1v1h-1zM300 13h1v1h-1zM309 13h1v1h-1z" fill="#000" shape-rendering="crispEdges"/>
<rect x="297.4" y="3.95" width="12.8" height="12.8" fill="none" stroke="#000" stroke-width="1.6"/>
<rect x="297.4" y="38.550000000000004" width="12.8" height="12.8" fill="#FF96CA"/>
<path d="M300 42h1v1h-1zM308 42h1v1h-1zM304 46h1v1h-1zM300 50h1v1h-1zM308 50h1v1h-1z" fill="#000" shape-rendering="crispEdges"/>
<rect x="297.4" y="38.550000000000004" width="12.8" height="12.8" fill="none" stroke="#000" stroke-width="1.6"/>
<text x="74.42" y="495.24" font-size="27.10" textLength="14.16" lengthAdjust="spacingAndGlyphs">0</text>
<text x="39.91" y="403.62" font-size="27.10" textLength="47.29" lengthAdjust="spacingAndGlyphs">0.01</text>
<text x="39.89" y="311.62" font-size="27.10" textLength="48.40" lengthAdjust="spacingAndGlyphs">0.02</text>
<text x="39.90" y="219.92" font-size="27.10" textLength="47.84" lengthAdjust="spacingAndGlyphs">0.03</text>
<text x="39.85" y="129.02" font-size="27.10" textLength="48.26" lengthAdjust="spacingAndGlyphs">0.04</text>
<text x="39.75" y="37.12" font-size="27.10" textLength="48.36" lengthAdjust="spacingAndGlyphs">0.05</text>
<text x="120.24" y="110.62" font-size="19.60" textLength="54.73" lengthAdjust="spacingAndGlyphs">0.0384</text>
<text x="187.63" y="160.72" font-size="19.60" textLength="55.25" lengthAdjust="spacingAndGlyphs">0.0326</text>
<text x="261.24" y="114.72" font-size="19.60" textLength="55.23" lengthAdjust="spacingAndGlyphs">0.0382</text>
<text x="331.62" y="165.52" font-size="19.60" textLength="46.06" lengthAdjust="spacingAndGlyphs">0.032</text>
<text x="403.23" y="103.92" font-size="19.60" textLength="55.40" lengthAdjust="spacingAndGlyphs">0.0379</text>
<text x="470.50" y="169.72" font-size="19.60" textLength="54.83" lengthAdjust="spacingAndGlyphs">0.0311</text>
<text x="545.24" y="111.72" font-size="19.60" textLength="54.73" lengthAdjust="spacingAndGlyphs">0.0374</text>
<text x="614.25" y="178.72" font-size="19.60" textLength="44.58" lengthAdjust="spacingAndGlyphs">0.031</text>
<text x="685.25" y="122.72" font-size="19.60" textLength="53.86" lengthAdjust="spacingAndGlyphs">0.0371</text>
<text x="751.23" y="178.72" font-size="19.60" textLength="55.25" lengthAdjust="spacingAndGlyphs">0.0306</text>
<text x="828.33" y="114.72" font-size="19.60" textLength="55.34" lengthAdjust="spacingAndGlyphs">0.0364</text>
<text x="894.33" y="176.72" font-size="19.60" textLength="55.34" lengthAdjust="spacingAndGlyphs">0.0304</text>
<text x="133.86" y="527.40" font-size="26.80" textLength="39.03" lengthAdjust="spacingAndGlyphs">500</text>
<text x="178.79" y="527.40" font-size="26.80" textLength="48.24" lengthAdjust="spacingAndGlyphs">ppm</text>
<text x="147.24" y="557.00" font-size="26.80" textLength="58.02" lengthAdjust="spacingAndGlyphs">CaCl</text>
<text x="205.35" y="558.10" font-size="13.80" textLength="7.95" lengthAdjust="spacingAndGlyphs">2</text>
<text x="268.75" y="527.40" font-size="26.80" textLength="51.23" lengthAdjust="spacingAndGlyphs">1000</text>
<text x="326.43" y="527.40" font-size="26.80" textLength="48.39" lengthAdjust="spacingAndGlyphs">ppm</text>
<text x="288.57" y="557.00" font-size="26.80" textLength="58.02" lengthAdjust="spacingAndGlyphs">CaCl</text>
<text x="346.68" y="558.10" font-size="13.80" textLength="7.95" lengthAdjust="spacingAndGlyphs">2</text>
<text x="409.18" y="527.40" font-size="26.80" textLength="53.13" lengthAdjust="spacingAndGlyphs">2500</text>
<text x="467.88" y="527.40" font-size="26.80" textLength="48.34" lengthAdjust="spacingAndGlyphs">ppm</text>
<text x="429.90" y="557.00" font-size="26.80" textLength="58.02" lengthAdjust="spacingAndGlyphs">CaCl</text>
<text x="488.01" y="558.10" font-size="13.80" textLength="7.95" lengthAdjust="spacingAndGlyphs">2</text>
<text x="551.46" y="527.40" font-size="26.80" textLength="52.14" lengthAdjust="spacingAndGlyphs">5000</text>
<text x="609.19" y="527.40" font-size="26.80" textLength="47.63" lengthAdjust="spacingAndGlyphs">ppm</text>
<text x="571.23" y="557.00" font-size="26.80" textLength="58.02" lengthAdjust="spacingAndGlyphs">CaCl</text>
<text x="629.34" y="558.10" font-size="13.80" textLength="7.95" lengthAdjust="spacingAndGlyphs">2</text>
<text x="692.30" y="527.40" font-size="26.80" textLength="52.50" lengthAdjust="spacingAndGlyphs">7500</text>
<text x="750.19" y="527.40" font-size="26.80" textLength="47.83" lengthAdjust="spacingAndGlyphs">ppm</text>
<text x="712.56" y="557.00" font-size="26.80" textLength="58.02" lengthAdjust="spacingAndGlyphs">CaCl</text>
<text x="770.67" y="558.10" font-size="13.80" textLength="7.95" lengthAdjust="spacingAndGlyphs">2</text>
<text x="827.95" y="527.40" font-size="26.80" textLength="64.03" lengthAdjust="spacingAndGlyphs">10000</text>
<text x="897.99" y="527.40" font-size="26.80" textLength="48.14" lengthAdjust="spacingAndGlyphs">ppm</text>
<text x="853.89" y="557.00" font-size="26.80" textLength="58.02" lengthAdjust="spacingAndGlyphs">CaCl</text>
<text x="912.00" y="558.10" font-size="13.80" textLength="7.95" lengthAdjust="spacingAndGlyphs">2</text>
<text x="315.29" y="18.10" font-size="26.70" textLength="123.85" lengthAdjust="spacingAndGlyphs">Nanofluids</text>
<text x="445.41" y="18.10" font-size="26.70" textLength="117.04" lengthAdjust="spacingAndGlyphs">containing</text>
<text x="569.21" y="18.10" font-size="26.70" textLength="56.59" lengthAdjust="spacingAndGlyphs">silica</text>
<text x="631.58" y="18.10" font-size="26.70" textLength="47.29" lengthAdjust="spacingAndGlyphs">NPs</text>
<text x="685.16" y="18.10" font-size="26.70" textLength="34.63" lengthAdjust="spacingAndGlyphs">(10</text>
<text x="726.22" y="18.10" font-size="26.70" textLength="43.80" lengthAdjust="spacingAndGlyphs">nm)</text>
<text x="315.29" y="52.80" font-size="26.70" textLength="123.85" lengthAdjust="spacingAndGlyphs">Nanofluids</text>
<text x="445.41" y="52.80" font-size="26.70" textLength="117.04" lengthAdjust="spacingAndGlyphs">containing</text>
<text x="569.21" y="52.80" font-size="26.70" textLength="56.59" lengthAdjust="spacingAndGlyphs">silica</text>
<text x="631.58" y="52.80" font-size="26.70" textLength="47.29" lengthAdjust="spacingAndGlyphs">NPs</text>
<text x="685.16" y="52.80" font-size="26.70" textLength="34.63" lengthAdjust="spacingAndGlyphs">(50</text>
<text x="726.22" y="52.80" font-size="26.70" textLength="43.80" lengthAdjust="spacingAndGlyphs">nm)</text>
<text transform="translate(21.7 388.38) rotate(-90)" font-size="31.2" textLength="152.42" lengthAdjust="spacingAndGlyphs">Normalized</text>
<text transform="translate(21.7 228.11) rotate(-90)" font-size="31.2" textLength="163.40" lengthAdjust="spacingAndGlyphs">Permeability</text>
</svg></body></html>
